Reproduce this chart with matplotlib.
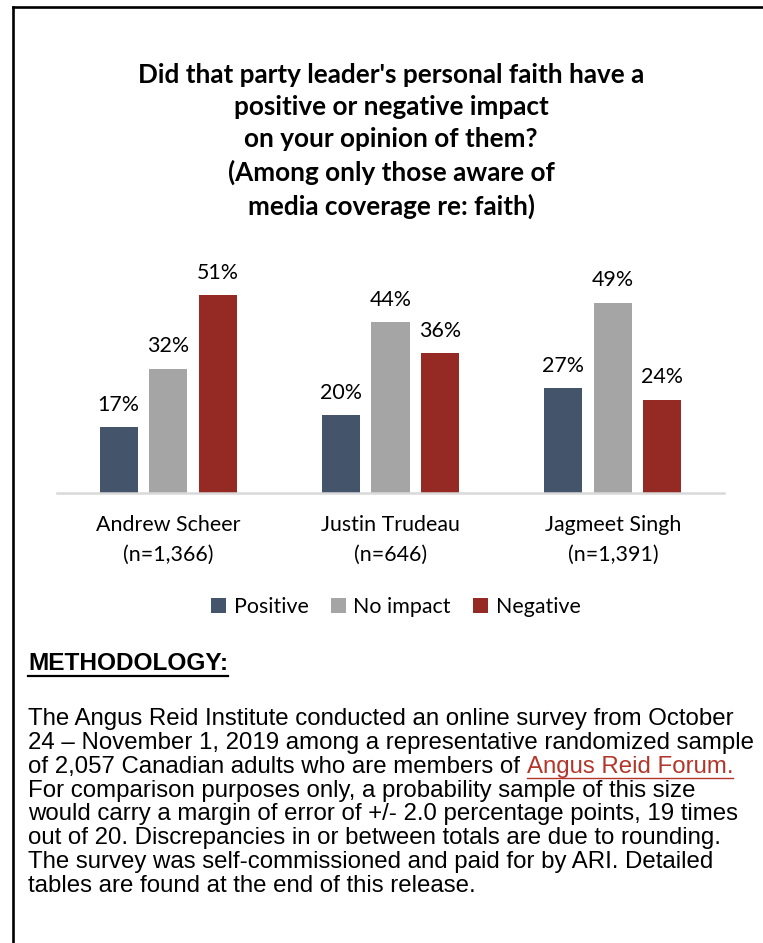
import matplotlib
matplotlib.use("Agg")
import matplotlib.pyplot as plt
from matplotlib.lines import Line2D
from matplotlib.patches import Patch
import numpy as np

# ---- data ----
leaders = ["Andrew Scheer", "Justin Trudeau", "Jagmeet Singh"]
sample_sizes = ["(n=1,366)", "(n=646)", "(n=1,391)"]
series_names = ["Positive", "No impact", "Negative"]
positive = [17, 20, 27]
no_impact = [32, 44, 49]
negative = [51, 36, 24]

title = ("Did that party leader's personal faith have a\n"
         "positive or negative impact\n"
         "on your opinion of them?\n"
         "(Among only those aware of\n"
         "media coverage re: faith)")

method_lines = [
    "The Angus Reid Institute conducted an online survey from October",
    "24 \u2013 November 1, 2019 among a representative randomized sample",
    "of 2,057 Canadian adults who are members of ",
    "For comparison purposes only, a probability sample of this size",
    "would carry a margin of error of +/- 2.0 percentage points, 19 times",
    "out of 20. Discrepancies in or between totals are due to rounding.",
    "The survey was self-commissioned and paid for by ARI. Detailed",
    "tables are found at the end of this release.",
]
link_text = "Angus Reid Forum."

colors = ["#44546A", "#A5A5A5", "#952923"]
chart_font = "Lato"
body_font = "Liberation Sans"
label_size = 15.4

W, H = 763, 943
fig = plt.figure(figsize=(W / 100, H / 100), dpi=100)
fig.patch.set_facecolor("white")


def fx(px):
    return px / W


def fy(py):
    return 1 - py / H


# frame lines along top and left edge
fig.add_artist(Line2D([fx(13), 1.0], [fy(7), fy(7)], color="black", lw=1.9,
                      transform=fig.transFigure, solid_capstyle="projecting"))
fig.add_artist(Line2D([fx(13), fx(13)], [fy(7), 0.0], color="black", lw=1.9,
                      transform=fig.transFigure, solid_capstyle="projecting"))

# title
fig.text(fx(391), fy(141), title, ha="center", va="center",
         fontsize=18.8, fontweight="bold", family=chart_font, linespacing=1.40)

# ---- bar chart ----
px_per_pct = 3.88
ax = fig.add_axes([fx(57), fy(493), fx(724) - fx(57), fy(250) - fy(493)])
ax.set_xlim(-0.5, 2.5)
ax.set_ylim(0, (493 - 250) / px_per_pct)

x = np.arange(len(leaders))
width = 0.171
step = 0.2225
series = [positive, no_impact, negative]
for i, (vals, col) in enumerate(zip(series, colors)):
    pos = x + (i - 1) * step
    ax.bar(pos, vals, width=width, color=col, zorder=2)
    for xp, v in zip(pos, vals):
        ax.annotate(f"{v}%", (xp, v), xytext=(0, 9), textcoords="offset points",
                    ha="center", va="bottom", fontsize=label_size, family=chart_font,
                    color="#000000")

for s in ["top", "left", "right"]:
    ax.spines[s].set_visible(False)
ax.spines["bottom"].set_color("#D9D9D9")
ax.spines["bottom"].set_linewidth(1.8)
ax.set_yticks([])
ax.set_xticks(x)
ax.set_xticklabels([f"{n}\n{s}" for n, s in zip(leaders, sample_sizes)],
                   fontsize=label_size, family=chart_font, linespacing=1.62)
ax.tick_params(axis="x", length=0, pad=16)
ax.set_facecolor("none")

handles = [Patch(facecolor=c, edgecolor="none") for c in colors]
fig.legend(handles, series_names, loc="center", bbox_to_anchor=(fx(396), fy(607)),
           ncol=3, frameon=False, handlelength=0.7, handleheight=0.7,
           handletextpad=0.35, columnspacing=1.05,
           prop={"family": chart_font, "size": label_size})

# ---- methodology block ----
fig.canvas.draw()
renderer = fig.canvas.get_renderer()

head = fig.text(fx(28), fy(663), "METHODOLOGY:", ha="left", va="center",
                fontsize=17.6, fontweight="bold", family=body_font)
bb = head.get_window_extent(renderer)
fig.add_artist(Line2D([bb.x0 / W, bb.x1 / W], [fy(676), fy(676)], color="black",
                      lw=1.6, transform=fig.transFigure))

line_y = [719, 743, 767, 791, 814, 838, 862, 886]
body_size = 17.3
for txt, yy in zip(method_lines, line_y):
    t = fig.text(fx(28), fy(yy), txt, ha="left", va="center",
                 fontsize=body_size, family=body_font, color="black")
    if txt.endswith("members of "):
        tb = t.get_window_extent(renderer)
        lk = fig.text(tb.x1 / W, fy(yy), link_text, ha="left", va="center",
                      fontsize=body_size, family=body_font, color="#B3362B")
        lb = lk.get_window_extent(renderer)
        fig.add_artist(Line2D([lb.x0 / W, lb.x1 / W], [fy(yy + 11), fy(yy + 11)],
                              color="#B3362B", lw=1.0, transform=fig.transFigure))

fig.savefig("out.png", dpi=100, facecolor="white")
